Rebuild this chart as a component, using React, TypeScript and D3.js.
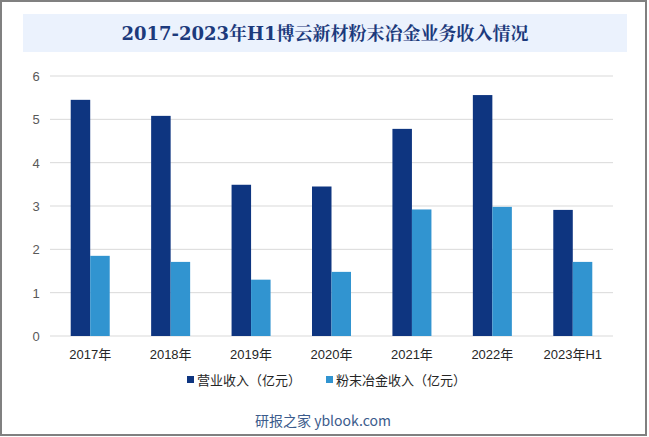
import { useEffect, useRef } from "react";
import * as d3 from "d3";

const categories = ["2017年", "2018年", "2019年", "2020年", "2021年", "2022年", "2023年H1"];
const revenue = [5.45, 5.08, 3.49, 3.45, 4.78, 5.56, 2.91];
const powderRevenue = [1.85, 1.71, 1.3, 1.48, 2.92, 2.98, 1.71];
const seriesNames = ["营业收入（亿元）", "粉末冶金收入（亿元）"];
const colors = ["#0e3580", "#3194d0"];
const yTicks = [0, 1, 2, 3, 4, 5, 6];

export default function App() {
  const svgRef = useRef<SVGSVGElement>(null);

  useEffect(() => {
    document.body.style.margin = "0";
    const svg = d3.select(svgRef.current);
    svg.selectAll("*").remove();

    const W = 649, H = 437;
    const left = 50, right = 613, top = 76, bottom = 336;
    const font = "'Liberation Sans', 'Noto Sans CJK SC', sans-serif";

    svg.attr("width", W).attr("height", H);
    svg.append("rect").attr("width", W).attr("height", H).attr("fill", "#fff");
    svg.append("rect")
      .attr("x", 1).attr("y", 1).attr("width", 645).attr("height", 434)
      .attr("fill", "none").attr("stroke", "#808080").attr("stroke-width", 2);

    // title
    svg.append("rect")
      .attr("x", 23).attr("y", 14).attr("width", 604).attr("height", 38)
      .attr("fill", "#ebf2fd");
    svg.append("text")
      .attr("x", 325).attr("y", 40)
      .attr("text-anchor", "middle")
      .attr("font-family", "'DejaVu Serif', 'Noto Serif CJK SC', serif")
      .attr("font-weight", "bold")
      .attr("font-size", 18)
      .attr("fill", "#1c3a7c")
      .text("2017-2023年H1博云新材粉末冶金业务收入情况");

    const x = d3.scaleBand().domain(categories).range([left, right]).paddingInner(0.515).paddingOuter(0.2575);
    const y = d3.scaleLinear().domain([0, 6]).range([bottom, top]);
    const x1 = d3.scaleBand().domain(["0", "1"]).range([0, x.bandwidth()]);

    const g = svg.append("g");
    g.selectAll("line.grid").data(yTicks).enter().append("line")
      .attr("x1", left).attr("x2", right)
      .attr("y1", d => y(d)).attr("y2", d => y(d))
      .attr("stroke", "#d9d9d9").attr("stroke-width", 1);

    g.selectAll("text.ytick").data(yTicks).enter().append("text")
      .attr("x", 36).attr("y", d => y(d) + 5)
      .attr("text-anchor", "middle")
      .attr("font-family", font).attr("font-size", 13)
      .attr("fill", "#595959")
      .text(d => d);

    const series = [revenue, powderRevenue];
    series.forEach((vals, si) => {
      g.selectAll(`rect.s${si}`).data(vals).enter().append("rect")
        .attr("x", (_, i) => (x(categories[i]) as number) + (x1(String(si)) as number))
        .attr("width", x1.bandwidth())
        .attr("y", d => y(d))
        .attr("height", d => bottom - y(d))
        .attr("fill", colors[si]);
    });

    g.selectAll("text.xtick").data(categories).enter().append("text")
      .attr("x", d => (x(d) as number) + x.bandwidth() / 2)
      .attr("y", 359)
      .attr("text-anchor", "middle")
      .attr("font-family", font).attr("font-size", 13)
      .attr("fill", "#262626")
      .text(d => d);

    // legend
    const legendX = [187, 326];
    seriesNames.forEach((name, i) => {
      svg.append("rect")
        .attr("x", legendX[i]).attr("y", 376).attr("width", 7).attr("height", 7)
        .attr("fill", colors[i]);
      svg.append("text")
        .attr("x", legendX[i] + 10).attr("y", 385)
        .attr("font-family", font).attr("font-size", 13)
        .attr("fill", "#262626")
        .text(name);
    });

    svg.append("text")
      .attr("x", 323).attr("y", 426)
      .attr("text-anchor", "middle")
      .attr("font-family", "'Noto Sans CJK SC', sans-serif").attr("font-size", 14)
      .attr("fill", "#3b5b8c")
      .text("研报之家 yblook.com");
  }, []);

  return <svg ref={svgRef}></svg>;
}
